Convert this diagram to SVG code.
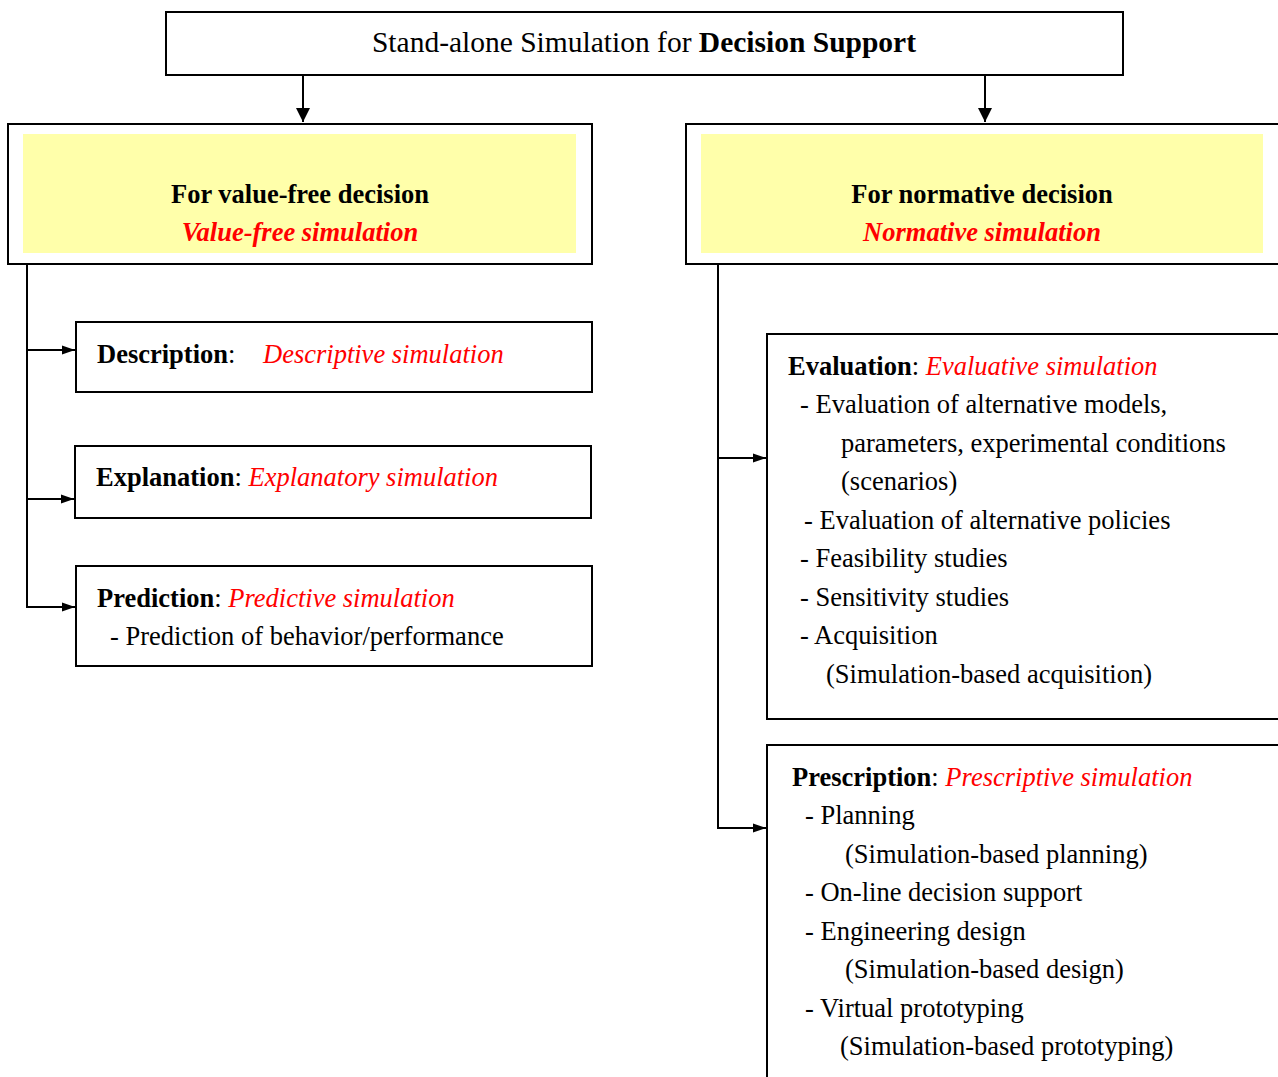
<svg xmlns="http://www.w3.org/2000/svg" width="1278" height="1077" viewBox="0 0 1278 1077">
<defs>
<style>
.box{fill:#fff;stroke:#000;stroke-width:2}
.hl{fill:#ffffaa;stroke:none}
.t{font-family:"Liberation Serif","Times New Roman",serif;font-size:26.5px;fill:#000}
.b{font-weight:bold}
.r{fill:#ff0000;font-style:italic}
.c{stroke:#000;stroke-width:2;fill:none}
</style>
<marker id="ah" markerWidth="13" markerHeight="10" refX="13" refY="5" orient="auto" markerUnits="userSpaceOnUse">
<path d="M0,0.5 L13,5 L0,9.5 Z" fill="#000"/>
</marker>
<marker id="ahs" markerWidth="14" markerHeight="16" refX="14" refY="8" orient="auto" markerUnits="userSpaceOnUse">
<path d="M0,1 L14,8 L0,15 Z" fill="#000"/>
</marker>
</defs>
<rect width="1278" height="1077" fill="#fff"/>

<g id="connectors">
<path class="c" d="M303,76 V122" marker-end="url(#ahs)"/>
<path class="c" d="M985,76 V122" marker-end="url(#ahs)"/>
<path class="c" d="M27,264 V607 H75" marker-end="url(#ah)"/>
<path class="c" d="M27,350 H75" marker-end="url(#ah)"/>
<path class="c" d="M27,499 H74" marker-end="url(#ah)"/>
<path class="c" d="M718,264 V828 H766" marker-end="url(#ah)"/>
<path class="c" d="M718,458 H766" marker-end="url(#ah)"/>
</g>

<g id="root">
<rect class="box" x="166" y="12" width="957" height="63"/>
<text class="t" x="644" y="52" text-anchor="middle" style="font-size:29.5px">Stand-alone Simulation for <tspan class="b">Decision Support</tspan></text>
</g>

<g id="valuefree">
<rect class="box" x="8" y="124" width="584" height="140"/>
<rect class="hl" x="23" y="134" width="553" height="119"/>
<text class="t b" x="300" y="203" text-anchor="middle">For value-free decision</text>
<text class="t b r" x="300" y="241" text-anchor="middle">Value-free simulation</text>
</g>

<g id="normative">
<rect class="box" x="686" y="124" width="600" height="140"/>
<rect class="hl" x="701" y="134" width="562" height="119"/>
<text class="t b" x="982" y="203" text-anchor="middle">For normative decision</text>
<text class="t b r" x="982" y="241" text-anchor="middle">Normative simulation</text>
</g>

<g id="description">
<rect class="box" x="76" y="322" width="516" height="70"/>
<text class="t" x="97" y="363"><tspan class="b">Description</tspan>:</text>
<text class="t r" x="263" y="363">Descriptive simulation</text>
</g>

<g id="explanation">
<rect class="box" x="75" y="446" width="516" height="72"/>
<text class="t" x="96" y="486"><tspan class="b">Explanation</tspan>: <tspan class="r">Explanatory simulation</tspan></text>
</g>

<g id="prediction">
<rect class="box" x="76" y="566" width="516" height="100"/>
<text class="t" x="97" y="607"><tspan class="b">Prediction</tspan>: <tspan class="r">Predictive simulation</tspan></text>
<text class="t" x="110" y="645">- Prediction of behavior/performance</text>
</g>

<g id="evaluation">
<rect class="box" x="767" y="334" width="520" height="385"/>
<text class="t" x="788" y="375"><tspan class="b">Evaluation</tspan>: <tspan class="r">Evaluative simulation</tspan></text>
<text class="t" x="800" y="413">- Evaluation of alternative models,</text>
<text class="t" x="841" y="452">parameters, experimental conditions</text>
<text class="t" x="841" y="490">(scenarios)</text>
<text class="t" x="804" y="529">- Evaluation of alternative policies</text>
<text class="t" x="800" y="567">- Feasibility studies</text>
<text class="t" x="800" y="606">- Sensitivity studies</text>
<text class="t" x="800" y="644">- Acquisition</text>
<text class="t" x="826" y="683">(Simulation-based acquisition)</text>
</g>

<g id="prescription">
<rect class="box" x="767" y="745" width="520" height="340"/>
<text class="t" x="792" y="786"><tspan class="b">Prescription</tspan>: <tspan class="r">Prescriptive simulation</tspan></text>
<text class="t" x="805" y="824">- Planning</text>
<text class="t" x="845" y="863">(Simulation-based planning)</text>
<text class="t" x="805" y="901">- On-line decision support</text>
<text class="t" x="805" y="940">- Engineering design</text>
<text class="t" x="845" y="978">(Simulation-based design)</text>
<text class="t" x="805" y="1017">- Virtual prototyping</text>
<text class="t" x="840" y="1055">(Simulation-based prototyping)</text>
</g>
</svg>
